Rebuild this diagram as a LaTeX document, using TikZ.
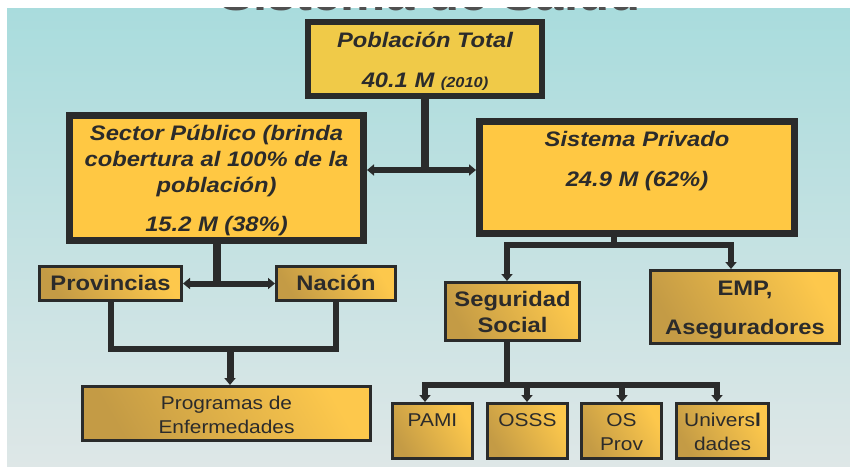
\documentclass[tikz,border=0pt]{standalone}
\usepackage{fontspec}
\setmainfont{Liberation Sans}[FakeStretch=1.13]
\usetikzlibrary{arrows.meta}
\definecolor{bgtop}{HTML}{A9DCDD}
\definecolor{bgbot}{HTML}{DEE7E7}
\definecolor{gold}{HTML}{FFC843}
\definecolor{goldpob}{HTML}{F0CA48}
\definecolor{golddark}{HTML}{C49B45}
\definecolor{goldlight}{HTML}{FDC84C}
\definecolor{ink}{HTML}{2A2B2B}
\definecolor{txt}{HTML}{2B2B2B}
\definecolor{titlegray}{HTML}{505050}
\newcommand\mlines[1]{\begin{tabular}[t]{@{}c@{}}#1\end{tabular}}
\begin{document}
\begin{tikzpicture}[x=1pt,y=-1pt,
  bigbox/.style={draw=ink, line width=7pt, fill=gold, inner sep=0pt, text=txt,
    font=\fontsize{21}{26}\selectfont\bfseries\itshape},
  smallbox/.style={draw=ink, line width=3pt, inner sep=0pt, text=txt,
    top color=goldlight, bottom color=golddark, shading angle=-60},
  boldtxt/.style={font=\fontsize{21}{26}\selectfont\bfseries},
  regtxt/.style={font=\fontsize{18.5}{23.5}\selectfont},
  conn/.style={draw=ink, line width=6pt, line join=miter},
  onetip/.style={-{Triangle[length=7pt,width=11pt]}},
  twotips/.style={{Triangle[length=7pt,width=11pt]}-{Triangle[length=7pt,width=11pt]}},
]
\useasboundingbox (0,0) rectangle (850,469);
\fill[top color=bgtop, bottom color=bgbot] (7,8) rectangle (850,466);
\begin{scope}
  \clip (0,7) rectangle (850,12);
  \node[font=\fontsize{45}{50}\selectfont\bfseries, text=titlegray, anchor=base, inner sep=0pt] (title) at (430,10.5) {Sistema de Salud};
\end{scope}

% boxes
\node[bigbox, line width=6pt, fill=goldpob, minimum width=234pt, minimum height=74pt,
  text height=25pt, text depth=49pt] (pob) at (425,59)
  {\mlines{Población Total\\[14pt]40.1 M {\fontsize{14.5}{17}\selectfont(2010)}}};
\node[bigbox, minimum width=294pt, minimum height=125pt,
  text height=24.5pt, text depth=100.5pt] (sec) at (216.5,178)
  {\mlines{Sector Público (brinda\\cobertura al 100\% de la\\población)\\[13pt]15.2 M (38\%)}};
\node[bigbox, minimum width=315pt, minimum height=112pt,
  text height=25pt, text depth=87pt] (sis) at (637,177.5)
  {\mlines{Sistema Privado\\[14pt]24.9 M (62\%)}};

\node[smallbox, boldtxt, minimum width=142pt, minimum height=34pt,
  text height=24pt, text depth=10pt] (prov) at (110.5,283.5) {Provincias};
\node[smallbox, boldtxt, minimum width=119pt, minimum height=34pt,
  text height=24pt, text depth=10pt] (nac) at (336,283.5) {Nación};
\node[smallbox, boldtxt, minimum width=134pt, minimum height=58pt,
  text height=24pt, text depth=34pt] (seg) at (512.5,311.5) {\mlines{Seguridad\\Social}};
\node[smallbox, boldtxt, minimum width=189pt, minimum height=73pt,
  text height=25pt, text depth=48pt] (emp) at (745,307) {\mlines{EMP,\\[13pt]Aseguradores}};
\node[smallbox, regtxt, minimum width=288pt, minimum height=54pt,
  text height=23pt, text depth=31pt] (prog) at (226.5,413.5) {\mlines{Programas de\\Enfermedades}};
\node[smallbox, regtxt, minimum width=80pt, minimum height=55pt,
  text height=23pt, text depth=32pt] (pami) at (432.5,431) {PAMI};
\node[smallbox, regtxt, minimum width=80pt, minimum height=55pt,
  text height=23pt, text depth=32pt] (osss) at (527.5,431) {OSSS};
\node[smallbox, regtxt, minimum width=80pt, minimum height=55pt,
  text height=23pt, text depth=32pt] (osprov) at (621.5,431) {\mlines{OS\\[0.5pt]Prov}};
\node[smallbox, regtxt, minimum width=92pt, minimum height=55pt,
  text height=23pt, text depth=32pt] (univ) at (722.5,431) {\mlines{Univers{\bfseries l}\\[0.5pt]dades}};

% connectors
\coordinate (j1) at (426,170);
\draw[conn, line width=8pt] (pob.south) -- (pob.south |- j1);
\draw[conn, twotips] (sec.east |- j1) -- (sis.west |- j1);

\draw[conn, line width=8pt] (sec.south) -- (sec.south |- prov.east);
\draw[conn, twotips] (prov.east) -- (nac.west);

\coordinate (j3) at (230,349);
\draw[conn] (prov.south) |- (nac.south |- j3) -- (nac.south);
\draw[conn, line width=7pt, onetip] (j3) -- (prog.north -| j3);

\coordinate (j4) at (614,245);
\coordinate (k1) at (507,245);
\coordinate (k2) at (731,245);
\draw[conn] (sis.south -| j4) -- (j4);
\draw[conn, onetip] (j4) -| (seg.north -| k1);
\draw[conn, onetip] (j4) -| (emp.north -| k2);

\coordinate (j5) at (507,385);
\coordinate (m1) at (425,385);
\coordinate (m2) at (527,385);
\coordinate (m3) at (622,385);
\coordinate (m4) at (717,385);
\draw[conn] (seg.south -| j5) -- (j5);
\draw[conn, onetip] (j5) -| (pami.north -| m1);
\draw[conn, onetip] (j5) -| (univ.north -| m4);
\draw[conn, onetip] (m2) -- (osss.north -| m2);
\draw[conn, onetip] (m3) -- (osprov.north -| m3);
\end{tikzpicture}
\end{document}
